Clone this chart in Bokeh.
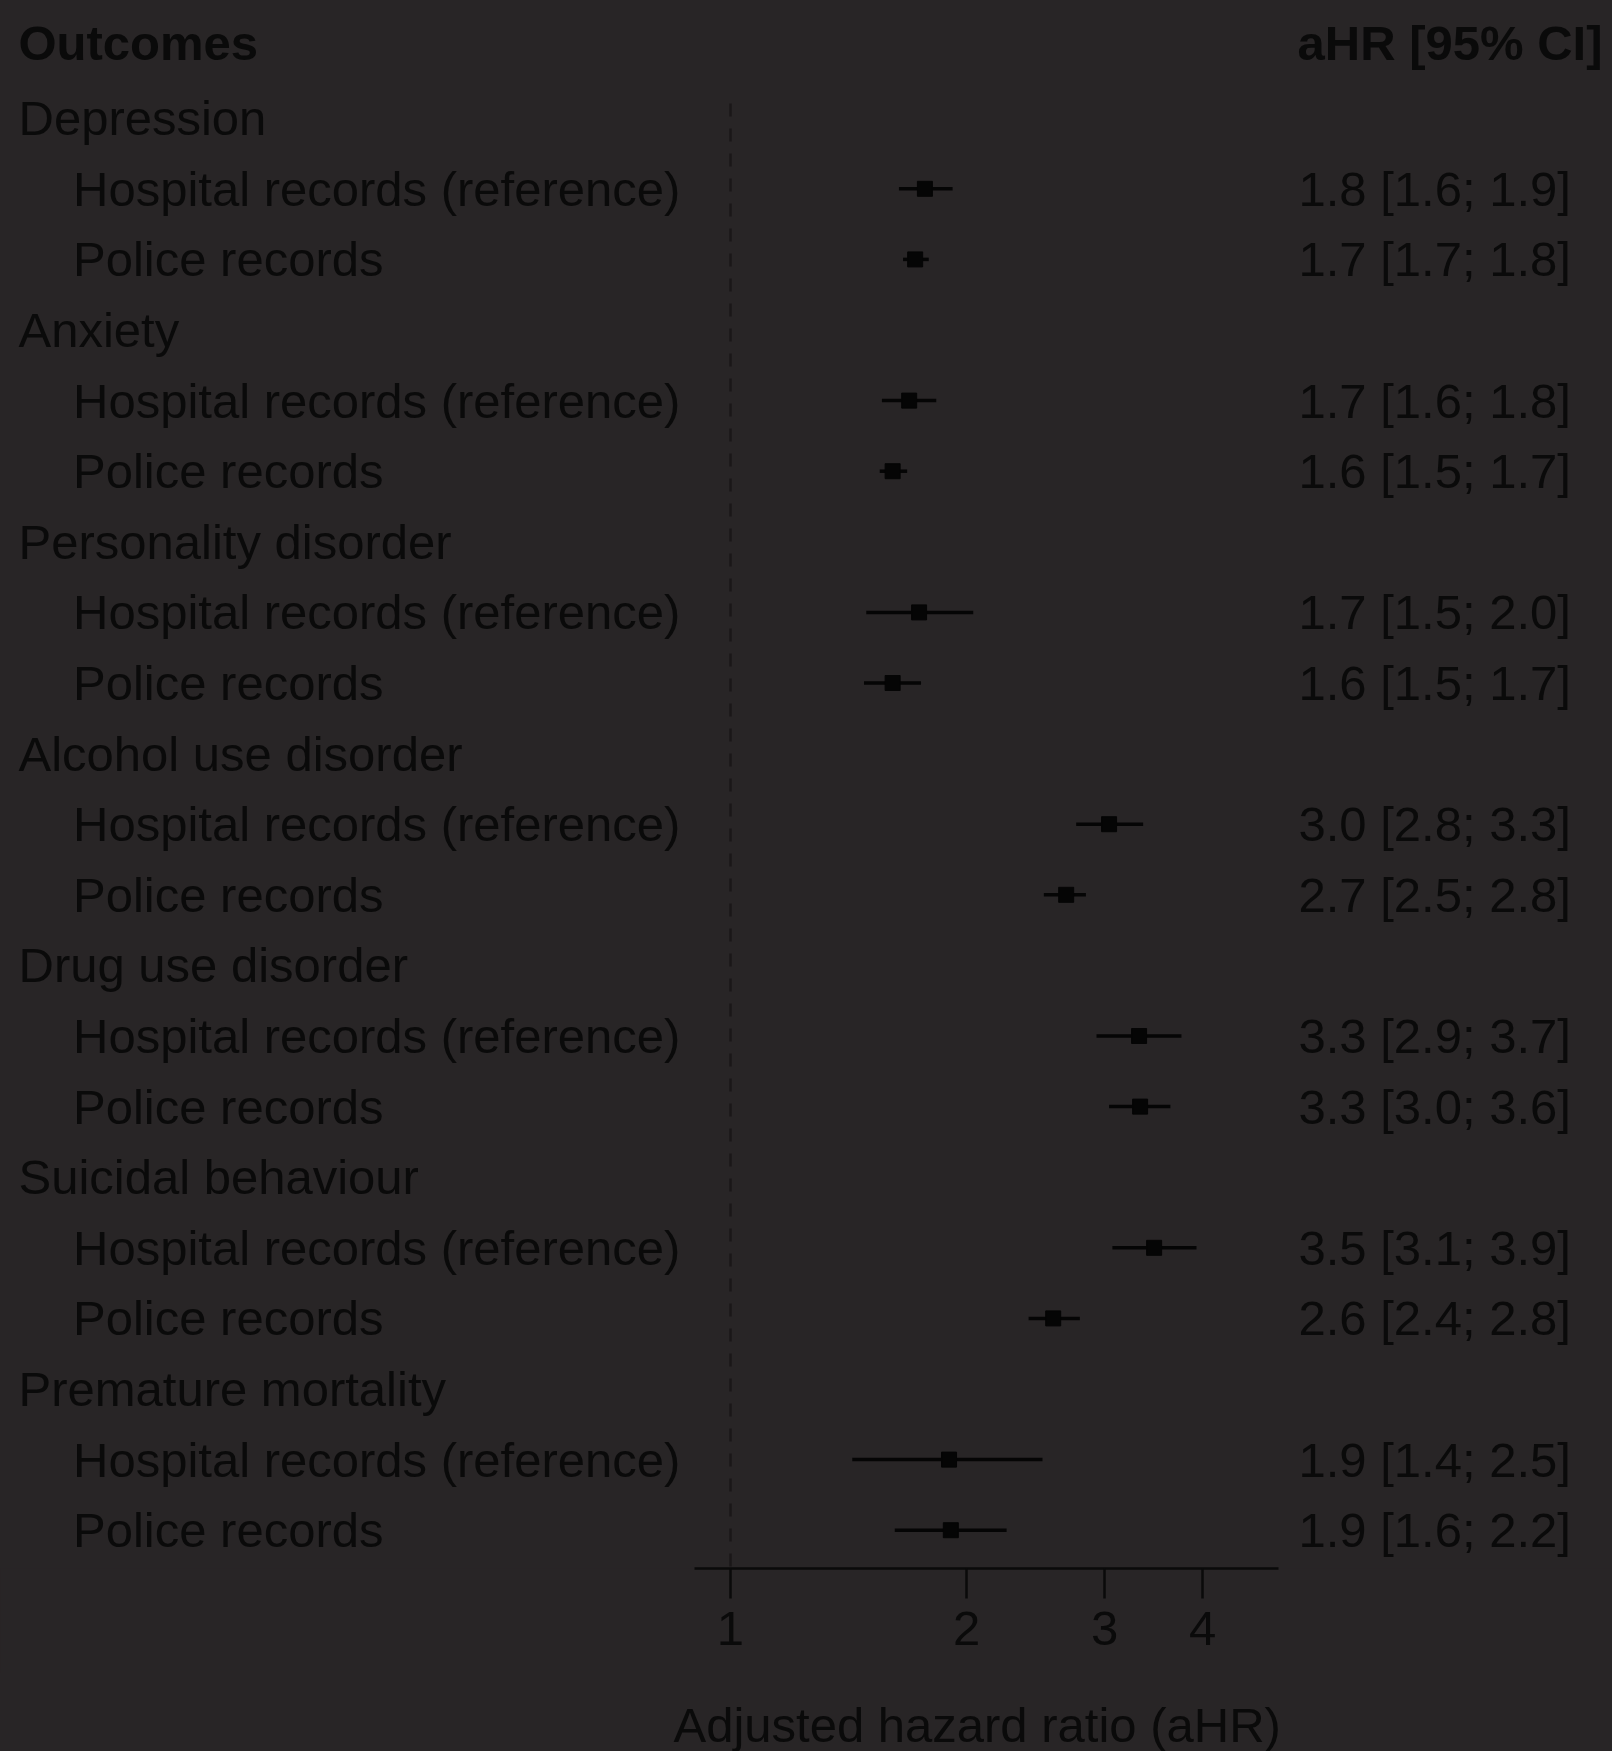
from bokeh.plotting import figure
from bokeh.layouts import column
from bokeh.models import Range1d, FixedTicker, ColumnDataSource, NumeralTickFormatter
from bokeh.embed import file_html
from bokeh.resources import INLINE
from bokeh.core.properties import value

# ---------------- data ----------------
groups = ["Depression", "Anxiety", "Personality disorder", "Alcohol use disorder",
          "Drug use disorder", "Suicidal behaviour", "Premature mortality"]
sub_labels = ["Hospital records (reference)", "Police records"]

hosp_est = [1.77, 1.69, 1.74, 3.04, 3.32, 3.47, 1.90]
hosp_lo = [1.64, 1.56, 1.49, 2.76, 2.93, 3.07, 1.43]
hosp_hi = [1.92, 1.83, 2.04, 3.36, 3.76, 3.93, 2.50]
pol_est = [1.72, 1.61, 1.61, 2.68, 3.33, 2.58, 1.91]
pol_lo = [1.66, 1.55, 1.48, 2.51, 3.04, 2.40, 1.62]
pol_hi = [1.79, 1.68, 1.75, 2.84, 3.64, 2.79, 2.25]

hosp_txt = ["1.8 [1.6; 1.9]", "1.7 [1.6; 1.8]", "1.7 [1.5; 2.0]", "3.0 [2.8; 3.3]",
            "3.3 [2.9; 3.7]", "3.5 [3.1; 3.9]", "1.9 [1.4; 2.5]"]
pol_txt = ["1.7 [1.7; 1.8]", "1.6 [1.5; 1.7]", "1.6 [1.5; 1.7]", "2.7 [2.5; 2.8]",
           "3.3 [3.0; 3.6]", "2.6 [2.4; 2.8]", "1.9 [1.6; 2.2]"]

header_left = "Outcomes"
header_right = "aHR [95% CI]"
x_ticks = [1, 2, 3, 4]
axis_bounds = (0.9, 5)
ref_value = 1
x_title = "Adjusted hazard ratio (aHR)"

# ---------------- layout / style ----------------
BG = "#282526"
INK = "#0a0a0a"
FONT = "Liberation Sans"
FS = "49px"
W, H = 1612, 1751
PX_DEC = 784.0          # pixels per decade on the log axis
PX_ONE = 730.0          # pixel where x = 1
ROW0 = 117.7            # pixel of row index 0
ROWH = 70.6             # row height in pixels
FRAME_H = 1568          # frame bottom (axis line)
AXIS_H = 105            # room for ticks + tick labels
H1 = FRAME_H + AXIS_H   # main figure height
H2 = H - H1             # strip holding the axis title
TITLE_Y = 1724


def xdata(px):
    return 10 ** ((px - PX_ONE) / PX_DEC)


def ydata(py):
    return (py - ROW0) / ROWH


# build rows
g_rows, s_rows, s_text, v_text = [], [], [], []
est, lo, hi = [], [], []
i = 0
for k, g in enumerate(groups):
    g_rows.append(i)
    for lab, e, l, h, t in ((sub_labels[0], hosp_est[k], hosp_lo[k], hosp_hi[k], hosp_txt[k]),
                            (sub_labels[1], pol_est[k], pol_lo[k], pol_hi[k], pol_txt[k])):
        i += 1
        s_rows.append(i)
        s_text.append(lab)
        v_text.append(t)
        est.append(e)
        lo.append(l)
        hi.append(h)
    i += 1

y_top = ydata(0)
y_bot = ydata(FRAME_H)
xr = Range1d(xdata(0), xdata(W))

p = figure(width=W, height=H1, x_axis_type="log",
           x_range=xr, y_range=Range1d(y_bot, y_top),
           y_axis_location=None, toolbar_location=None,
           output_backend="svg",
           min_border_left=0, min_border_right=0, min_border_top=0,
           min_border_bottom=AXIS_H)
p.background_fill_color = None
p.border_fill_color = BG
p.outline_line_color = None
p.xgrid.visible = False
p.ygrid.visible = False
p.styles = {"background-color": BG}

# reference dashed line at 1
p.segment(x0=[ref_value], y0=[ydata(103)], x1=[ref_value], y1=[y_bot],
          line_color="#1a1718", line_width=2.5, line_dash="13 12")

# CIs and boxes
src = ColumnDataSource(dict(est=est, lo=lo, hi=hi, y=s_rows))
p.segment(x0="lo", y0="y", x1="hi", y1="y", source=src, line_color="#050505", line_width=3.5)
p.scatter(x="est", y="y", source=src, marker="square", size=15,
          fill_color="#050505", line_color="#050505")

# texts
common = dict(text_font=value(FONT), text_font_size=FS, text_color=INK,
              text_baseline="middle", text_align="left")
p.text(x=[xdata(18)], y=[-1], text=[header_left], text_font_style="bold", y_offset=-5, **common)
p.text(x=[xdata(1297)], y=[-1], text=[header_right], text_font_style="bold", y_offset=-5, **common)
p.text(x=[xdata(18)] * len(groups), y=g_rows, text=groups, **common)
p.text(x=[xdata(72.5)] * len(s_rows), y=s_rows, text=s_text, **common)
p.text(x=[xdata(1298)] * len(s_rows), y=s_rows, text=v_text, **common)

# axis
ax = p.xaxis[0]
ax.bounds = axis_bounds
ax.ticker = FixedTicker(ticks=x_ticks, minor_ticks=[])
ax.formatter = NumeralTickFormatter(format="0")
ax.axis_line_color = INK
ax.axis_line_width = 2.5
ax.major_tick_line_color = INK
ax.major_tick_line_width = 2.5
ax.major_tick_out = 30
ax.major_tick_in = 0
ax.minor_tick_out = 0
ax.minor_tick_in = 0
ax.major_label_text_font = FONT
ax.major_label_text_font_size = FS
ax.major_label_text_color = INK
ax.major_label_standoff = 13

# strip below with the axis title
p2 = figure(width=W, height=H2, x_axis_type="log", x_range=xr,
            y_range=Range1d(ydata(H), ydata(H1)),
            x_axis_location=None, y_axis_location=None, toolbar_location=None,
            output_backend="svg",
            min_border_left=0, min_border_right=0, min_border_top=0, min_border_bottom=0)
p2.background_fill_color = None
p2.border_fill_color = BG
p2.outline_line_color = None
p2.xgrid.visible = False
p2.ygrid.visible = False
p2.styles = {"background-color": BG}
p2.text(x=[xdata(673)], y=[ydata(TITLE_Y)], text=[x_title], **common)

layout = column(p, p2, spacing=0)
layout.styles = {"background-color": BG}

html = file_html(layout, INLINE)
html = html.replace("<body", '<body style="background-color:%s;"' % BG, 1)
open("out.html", "w").write(html)
